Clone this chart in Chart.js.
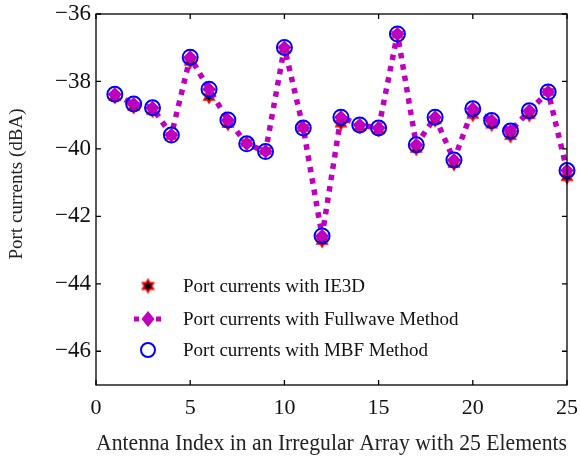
<!DOCTYPE html>
<html>
<head>
<meta charset="utf-8">
<script src="https://cdn.jsdelivr.net/npm/chart.js@4.4.1/dist/chart.umd.min.js"></script>
<style>
  html, body { margin: 0; padding: 0; background: #fff; }
  #wrap { width: 581px; height: 459px; position: relative; }
</style>
</head>
<body>
<div id="wrap"><canvas id="c" width="581" height="459"></canvas></div>
<script>
// ---- data ----
const antennaIndex = [1, 2, 3, 4, 5, 6, 7, 8, 9, 10, 11, 12, 13, 14, 15, 16, 17, 18, 19, 20, 21, 22, 23, 24, 25];
const ie3dCurrents = [-38.46, -38.76, -38.87, -39.62, -37.42, -38.46, -39.26, -39.82, -40.06, -37.05, -39.38, -42.73, -39.25, -39.35, -39.44, -36.61, -40.00, -39.15, -40.45, -38.99, -39.28, -39.62, -39.00, -38.31, -40.84];
const fullwaveCurrents = [-38.38, -38.67, -38.78, -39.59, -37.28, -38.23, -39.14, -39.85, -40.08, -36.99, -39.38, -42.58, -39.06, -39.29, -39.38, -36.59, -39.88, -39.06, -40.33, -38.81, -39.16, -39.47, -38.87, -38.31, -40.64];
const mbfCurrents = [-38.38, -38.67, -38.78, -39.59, -37.28, -38.23, -39.14, -39.85, -40.08, -36.99, -39.38, -42.58, -39.06, -39.29, -39.38, -36.59, -39.88, -39.06, -40.33, -38.81, -39.16, -39.47, -38.87, -38.31, -40.64];
const xTickValues = [0, 5, 10, 15, 20, 25];
const yTickValues = [-46, -44, -42, -40, -38, -36];
const seriesLabels = ['Port currents with IE3D', 'Port currents with Fullwave Method', 'Port currents with MBF Method'];
const xTitle = 'Antenna Index in an Irregular Array with 25 Elements';
const yTitle = 'Port currents (dBA)';

const MAGENTA = '#bf00bf';
const SERIF = '"Liberation Serif", "Times New Roman", serif';

// hexagram marker
function makeStar(size) {
  const cv = document.createElement('canvas');
  cv.width = size; cv.height = size;
  const g = cv.getContext('2d');
  const c = size / 2;
  function hex(r, color) {
    g.fillStyle = color;
    for (let t = 0; t < 2; t++) {
      g.beginPath();
      for (let k = 0; k < 3; k++) {
        const a = -Math.PI / 2 + t * Math.PI + k * 2 * Math.PI / 3;
        const px = c + r * Math.cos(a), py = c + r * Math.sin(a);
        if (k === 0) g.moveTo(px, py); else g.lineTo(px, py);
      }
      g.closePath();
      g.fill();
    }
  }
  hex(size / 2 - 0.5, '#ff0000');
  hex(size / 2 - 4, '#000000');
  return cv;
}
const starImg = makeStar(16);
const legendStar = makeStar(17);

const decor = {
  id: 'decor',
  afterDraw(chart) {
    const ctx = chart.ctx;
    const a = chart.chartArea;
    const xs = chart.scales.x, ys = chart.scales.y;
    ctx.save();
    ctx.strokeStyle = '#000';
    ctx.lineWidth = 1.3;
    ctx.strokeRect(a.left, a.top, a.right - a.left, a.bottom - a.top);
    const tl = 5;
    ctx.beginPath();
    xTickValues.forEach(v => {
      const px = xs.getPixelForValue(v);
      ctx.moveTo(px, a.bottom); ctx.lineTo(px, a.bottom - tl);
      ctx.moveTo(px, a.top); ctx.lineTo(px, a.top + tl);
    });
    yTickValues.forEach(v => {
      const py = ys.getPixelForValue(v);
      ctx.moveTo(a.left, py); ctx.lineTo(a.left + tl, py);
      ctx.moveTo(a.right, py); ctx.lineTo(a.right - tl, py);
    });
    ctx.stroke();

    // y axis title
    ctx.save();
    ctx.translate(17, 184);
    ctx.rotate(-Math.PI / 2);
    ctx.font = '19px ' + SERIF;
    ctx.fillStyle = '#222';
    ctx.textAlign = 'center';
    ctx.textBaseline = 'middle';
    ctx.fillText(yTitle, 0, 0);
    ctx.restore();

    // legend
    const mx = 148, tx = 183;
    const rows = [286, 319, 350];
    ctx.font = '19px ' + SERIF;
    ctx.fillStyle = '#111';
    ctx.textBaseline = 'middle';
    ctx.textAlign = 'left';
    rows.forEach((ry, i) => ctx.fillText(seriesLabels[i], tx, ry + 1));
    // star
    ctx.drawImage(legendStar, mx - 8.5, rows[0] - 8.5, 17, 17);
    // dotted line + diamond
    ctx.strokeStyle = MAGENTA;
    ctx.lineWidth = 5;
    ctx.setLineDash([5, 6]);
    ctx.beginPath();
    ctx.moveTo(mx - 14, rows[1]); ctx.lineTo(mx + 16, rows[1]);
    ctx.stroke();
    ctx.setLineDash([]);
    ctx.fillStyle = MAGENTA;
    ctx.beginPath();
    ctx.moveTo(mx, rows[1] - 8); ctx.lineTo(mx + 6.5, rows[1]);
    ctx.lineTo(mx, rows[1] + 8); ctx.lineTo(mx - 6.5, rows[1]);
    ctx.closePath(); ctx.fill();
    // circle
    ctx.strokeStyle = '#0000ff';
    ctx.lineWidth = 2;
    ctx.beginPath();
    ctx.arc(mx, rows[2], 7, 0, Math.PI * 2);
    ctx.stroke();
    ctx.restore();
  }
};

const toPts = (ys) => antennaIndex.map((x, i) => ({ x: x, y: ys[i] }));

new Chart(document.getElementById('c'), {
  type: 'line',
  data: {
    datasets: [
      {
        label: seriesLabels[0],
        data: toPts(ie3dCurrents),
        showLine: false,
        pointStyle: starImg,
        pointRadius: 8,
        order: 3,
        clip: false
      },
      {
        label: seriesLabels[1],
        data: toPts(fullwaveCurrents),
        borderColor: MAGENTA,
        borderWidth: 5.5,
        borderDash: [5.5, 6],
        borderCapStyle: 'butt',
        borderJoinStyle: 'bevel',
        pointStyle: 'rectRot',
        pointRadius: 7,
        pointBackgroundColor: MAGENTA,
        pointBorderColor: MAGENTA,
        pointBorderWidth: 0,
        tension: 0,
        fill: false,
        order: 2,
        clip: false
      },
      {
        label: seriesLabels[2],
        data: toPts(mbfCurrents),
        showLine: false,
        pointStyle: 'circle',
        pointRadius: 7.5,
        pointBackgroundColor: 'rgba(0,0,0,0)',
        pointBorderColor: '#0000ff',
        pointBorderWidth: 2,
        order: 1,
        clip: false
      }
    ]
  },
  options: {
    responsive: false,
    animation: false,
    events: [],
    layout: { padding: { top: 14, right: 14, left: 0, bottom: 0 } },
    plugins: { legend: { display: false }, tooltip: { enabled: false } },
    scales: {
      x: {
        type: 'linear',
        min: 0, max: 25,
        afterBuildTicks: (s) => { s.ticks = xTickValues.map(v => ({ value: v })); },
        afterFit: (s) => { s.height = 74; s.paddingRight = 0; s.paddingLeft = 0; },
        grid: { display: false, drawTicks: false },
        border: { display: false },
        ticks: { color: '#111', font: { family: SERIF, size: 22 }, padding: 10, maxRotation: 0 },
        title: { display: true, text: xTitle, color: '#222', font: { family: SERIF, size: 23 }, padding: { top: 0, bottom: 1 } }
      },
      y: {
        type: 'linear',
        min: -47, max: -36,
        afterBuildTicks: (s) => { s.ticks = yTickValues.map(v => ({ value: v })); },
        afterFit: (s) => { s.width = 96; s.paddingTop = 0; s.paddingBottom = 0; },
        grid: { display: false, drawTicks: false },
        border: { display: false },
        ticks: {
          color: '#111', font: { family: SERIF, size: 23 }, padding: 5,
          callback: (v) => String(v).replace('-', '\u2212')
        },
        title: { display: false }
      }
    }
  },
  plugins: [decor]
});
</script>
</body>
</html>
